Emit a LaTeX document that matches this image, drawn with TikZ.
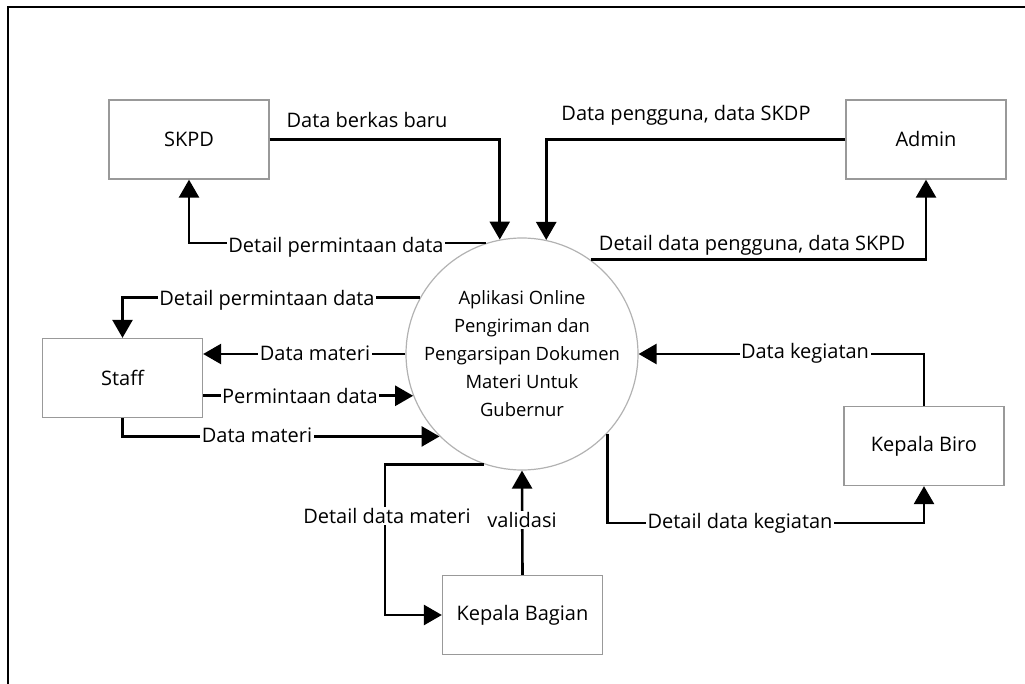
\documentclass[tikz,border=0pt]{standalone}
\usepackage{fontspec}
\setmainfont{Open Sans}
\usetikzlibrary{arrows.meta,calc}
\begin{document}
\begin{tikzpicture}[x=1pt,y=-1pt,
  every node/.style={font=\fontsize{20}{28}\selectfont},
  entity/.style={draw=black!40, line width=1.3pt, minimum width=160pt, minimum height=79pt, inner sep=0pt},
  proc/.style={circle, draw=black!30, line width=1.2pt, minimum size=226pt, align=center, inner sep=0pt,
    font=\fontsize{18.4}{28}\selectfont},
  flow/.style={line width=2.6pt, -{Triangle[length=18pt,width=20pt]}},
  lbl/.style={fill=white, inner sep=1.5pt},
  frame/.style={line width=2.4pt}]
\useasboundingbox (0,0) rectangle (1025,684);
\draw[frame] (8,690) -- (8,7) -- (1030,7);

\node[entity] (skpd) at (189,139.5) {SKPD};
\node[entity] (admin) at (926,139.5) {Admin};
\node[entity] (staff) at (122.5,378) {Staff};
\node[entity] (biro) at (924,446) {Kepala Biro};
\node[entity] (bagian) at (522.5,615) {Kepala Bagian};
\node[proc] (c) at (522,354) {Aplikasi Online\\Pengiriman dan\\Pengarsipan Dokumen\\Materi Untuk\\Gubernur};

\draw[flow] (skpd.east) -| (c.101.2);
\node (l1) at (367,120) {Data berkas baru};

\draw[flow] (admin.west) -| (c.78.3);
\node (l2) at (686,115) {Data pengguna, data SKDP};

\draw[flow] (c.108.7) -| (skpd.south);
\node[lbl] (l3) at (336,247) {Detail permintaan data};

\draw[flow] (c.54.5) -| (admin.south);
\node (l4) at (752,245) {Detail data pengguna, data SKPD};

\draw[flow] (c.151.5) -| (staff.north);
\node[lbl] (l5) at (267,300) {Detail permintaan data};

\draw[flow] (c.180) -- (c.180 -| staff.east);
\node[lbl] (l6) at (315,353) {Data materi};

\draw[flow] (c.201.8 -| staff.east) -- (c.201.8);
\node[lbl] (l7) at (300,396) {Permintaan data};

\draw[flow] (staff.south) |- (c.225.8);
\node[lbl] (l8) at (257,435) {Data materi};

\coordinate (dm) at (385,615);
\draw[flow] (c.251.3) -| (dm) -- (bagian.west);
\node[lbl] (l9) at (387,516) {Detail data materi};

\draw[flow] (bagian.north) -- (c.south);
\node[lbl] (l10) at (522,520) {validasi};

\coordinate (dk) at (740,523);
\draw[flow] (c.317.3) |- (dk) -| (biro.south);
\node[lbl] (l11) at (740,523) {Detail data kegiatan};

\draw[flow] (biro.north) |- (c.east);
\node[lbl] (l12) at (805,353) {Data kegiatan};
\end{tikzpicture}
\end{document}
